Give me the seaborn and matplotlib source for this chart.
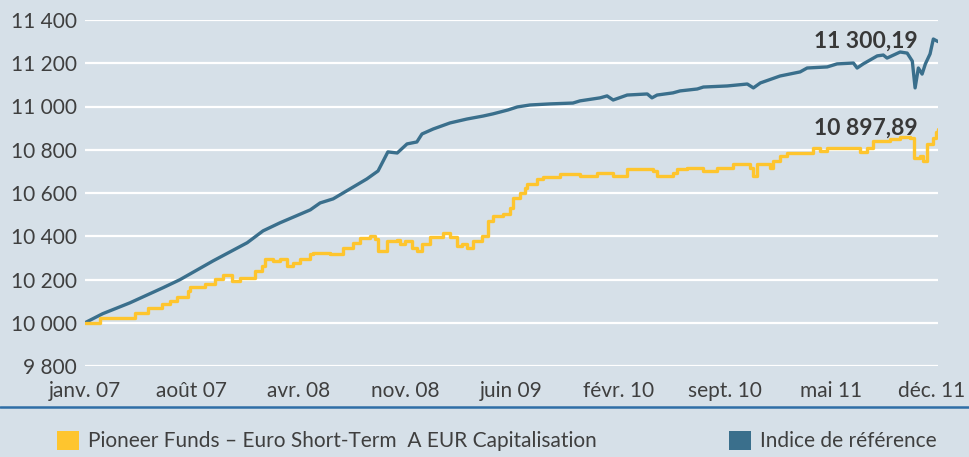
"""
Pioneer Funds – Euro Short-Term vs. indice de référence (janv. 07 – déc. 11)
"""

import numpy as np
import pandas as pd
import matplotlib
matplotlib.use("Agg")
import matplotlib.pyplot as plt
import matplotlib.dates as mdates
import matplotlib.transforms as mtransforms
from matplotlib.lines import Line2D
from matplotlib.patches import Patch
import seaborn as sns

# ─────────────────────────────────────────────
# Data
# ─────────────────────────────────────────────

fund_dates = [
    "2007-01-01", "2007-02-02", "2007-04-18", "2007-05-16", "2007-06-15", "2007-07-02",
    "2007-07-17", "2007-08-09", "2007-08-14", "2007-09-15", "2007-10-06", "2007-10-23",
    "2007-11-12", "2007-11-29", "2007-12-31", "2008-01-15", "2008-01-21", "2008-02-07",
    "2008-02-22", "2008-03-08", "2008-03-21", "2008-04-05", "2008-04-27", "2008-05-03",
    "2008-06-08", "2008-07-06", "2008-07-28", "2008-08-12", "2008-09-02", "2008-09-13",
    "2008-09-19", "2008-10-08", "2008-10-30", "2008-11-05", "2008-11-16", "2008-12-01",
    "2008-12-11", "2008-12-22", "2009-01-08", "2009-02-05", "2009-02-20", "2009-03-07",
    "2009-03-18", "2009-03-28", "2009-04-10", "2009-04-30", "2009-05-12", "2009-05-23",
    "2009-06-14", "2009-06-29", "2009-07-05", "2009-07-20", "2009-07-31", "2009-08-04",
    "2009-08-25", "2009-09-07", "2009-10-14", "2009-11-25", "2010-01-01", "2010-02-04",
    "2010-03-06", "2010-05-01", "2010-05-09", "2010-06-12", "2010-06-21", "2010-07-12",
    "2010-08-16", "2010-09-14", "2010-10-19", "2010-11-24", "2010-12-01", "2010-12-09",
    "2011-01-06", "2011-01-12", "2011-01-27", "2011-02-11", "2011-04-08", "2011-04-23",
    "2011-05-08", "2011-07-11", "2011-07-18", "2011-08-01", "2011-08-14", "2011-09-20",
    "2011-10-11", "2011-11-02", "2011-11-10", "2011-11-23", "2011-11-29", "2011-12-08",
    "2011-12-21", "2011-12-27", "2011-12-31",
]
fund_values = [
    10000, 10023, 10046, 10069, 10088, 10102,
    10120, 10148, 10166, 10180, 10203, 10222,
    10194, 10208, 10240, 10263, 10296, 10286,
    10296, 10263, 10277, 10296, 10319, 10323,
    10319, 10347, 10370, 10393, 10402, 10388,
    10333, 10379, 10383, 10365, 10379, 10347,
    10333, 10365, 10397, 10416, 10397, 10356,
    10365, 10347, 10379, 10402, 10471, 10494,
    10504, 10531, 10578, 10601, 10624, 10642,
    10665, 10675, 10688, 10679, 10693, 10679,
    10711, 10702, 10679, 10693, 10711, 10716,
    10702, 10716, 10735, 10716, 10679, 10735,
    10716, 10748, 10772, 10785, 10808, 10795,
    10808, 10808, 10790, 10808, 10841, 10850,
    10859, 10855, 10762, 10772, 10748, 10827,
    10855, 10880, 10897.89,
]

index_dates = [
    "2007-01-01", "2007-02-08", "2007-04-07", "2007-06-17", "2007-07-23", "2007-10-02",
    "2007-12-14", "2008-01-17", "2008-02-22", "2008-04-27", "2008-05-18", "2008-06-15",
    "2008-07-21", "2008-08-26", "2008-09-19", "2008-09-30", "2008-10-10", "2008-10-30",
    "2008-11-20", "2008-12-11", "2008-12-22", "2009-01-15", "2009-02-20", "2009-03-28",
    "2009-05-02", "2009-05-23", "2009-06-24", "2009-07-14", "2009-08-10", "2009-09-22",
    "2009-11-10", "2009-11-25", "2010-01-07", "2010-01-22", "2010-02-04", "2010-03-06",
    "2010-04-18", "2010-04-28", "2010-05-09", "2010-06-12", "2010-06-27", "2010-08-03",
    "2010-08-16", "2010-10-06", "2010-11-18", "2010-12-01", "2010-12-16", "2011-01-27",
    "2011-03-11", "2011-03-26", "2011-05-08", "2011-05-29", "2011-07-03", "2011-07-11",
    "2011-07-24", "2011-08-23", "2011-09-05", "2011-09-13", "2011-10-11", "2011-10-26",
    "2011-11-06", "2011-11-12", "2011-11-19", "2011-11-27", "2011-12-04", "2011-12-14",
    "2011-12-21", "2011-12-31",
]
index_values = [
    10000, 10042, 10092, 10162, 10199, 10286,
    10370, 10425, 10462, 10522, 10554, 10573,
    10619, 10665, 10702, 10748, 10790, 10785,
    10827, 10836, 10873, 10896, 10924, 10942,
    10956, 10966, 10984, 10998, 11007, 11012,
    11016, 11026, 11040, 11049, 11030, 11053,
    11058, 11040, 11053, 11063, 11072, 11081,
    11090, 11095, 11104, 11086, 11109, 11141,
    11160, 11178, 11183, 11197, 11201, 11178,
    11197, 11234, 11238, 11224, 11252, 11247,
    11210, 11086, 11178, 11150, 11197, 11243,
    11312, 11300.19,
]

fund_label = "Pioneer Funds \u2013 Euro Short-Term  A EUR Capitalisation"
index_label = "Indice de référence"

x_tick_labels = ["janv. 07", "août 07", "avr. 08", "nov. 08", "juin 09",
                 "févr. 10", "sept. 10", "mai 11", "déc. 11"]
y_ticks = [9800, 10000, 10200, 10400, 10600, 10800, 11000, 11200, 11400]

# ─────────────────────────────────────────────
# Style
# ─────────────────────────────────────────────

BG = "#d6e0e8"
YELLOW = "#fec52e"
BLUE = "#3a6f8c"
TEXT = "#3f3f3f"
RULE = "#2f6ea6"
FS = 15

sns.set_theme(style="white")
plt.rcParams["font.family"] = ["Lato", "DejaVu Sans"]
plt.rcParams["figure.facecolor"] = BG
plt.rcParams["axes.facecolor"] = BG


def fr_number(v):
    return f"{v:,.2f}".replace(",", " ").replace(".", ",")


def fr_int(v):
    return f"{int(v):,}".replace(",", " ")


fund = pd.DataFrame({"date": pd.to_datetime(fund_dates), "value": fund_values})
index = pd.DataFrame({"date": pd.to_datetime(index_dates), "value": index_values})

fig = plt.figure(figsize=(9.69, 4.57), dpi=100)
ax = fig.add_axes([85 / 969, 1 - 366 / 457, 853 / 969, 346 / 457])

sns.lineplot(data=index, x="date", y="value", ax=ax, color=BLUE, lw=2.4)
sns.lineplot(data=fund, x="date", y="value", ax=ax, color=YELLOW, lw=2.4,
             drawstyle="steps-post")

# axes / grid
start, end = fund["date"].iloc[0], fund["date"].iloc[-1]
ax.set_xlim(start, end)
ax.set_ylim(y_ticks[0], y_ticks[-1])
ax.set_yticks(y_ticks)
ax.set_yticklabels([fr_int(v) for v in y_ticks])
ax.set_xticks(np.linspace(mdates.date2num(start), mdates.date2num(end), len(x_tick_labels)))
ax.set_xticklabels(x_tick_labels)
ax.grid(axis="y", color="white", lw=1.6)
ax.set_axisbelow(True)
for s in ax.spines.values():
    s.set_visible(False)
ax.tick_params(axis="both", length=0, labelsize=FS, colors=TEXT)
ax.tick_params(axis="y", pad=6)
ax.tick_params(axis="x", pad=11)
ax.set_xlabel("")
ax.set_ylabel("")

# keep the last month label inside the figure edge
last_lbl = ax.get_xticklabels()[-1]
last_lbl.set_transform(last_lbl.get_transform() +
                       mtransforms.ScaledTranslation(-6 / 100, 0, fig.dpi_scale_trans))

# end-value labels
for df in (index, fund):
    last = df.iloc[-1]
    ax.annotate(fr_number(last["value"]), xy=(last["date"], last["value"]),
                xytext=(-20, 0), textcoords="offset pixels",
                ha="right", va="center", fontsize=FS + 1.5, fontweight="bold",
                color="#383838")

# separator rule
fig.add_artist(Line2D([0, 1], [1 - 407 / 457] * 2, transform=fig.transFigure,
                      color=RULE, lw=1.8))

# legends
for color, label, x0 in [(YELLOW, fund_label, 57), (BLUE, index_label, 729)]:
    fig.legend(handles=[Patch(facecolor=color, edgecolor="none", label=label)],
               loc="center left", bbox_to_anchor=(x0 / 969, 1 - 441 / 457),
               frameon=False, borderpad=0, borderaxespad=0,
               handlelength=1.06, handleheight=1.06, handletextpad=0.45,
               fontsize=FS, labelcolor=TEXT)

plt.savefig("out.png", dpi=100, facecolor=BG)
plt.close()
